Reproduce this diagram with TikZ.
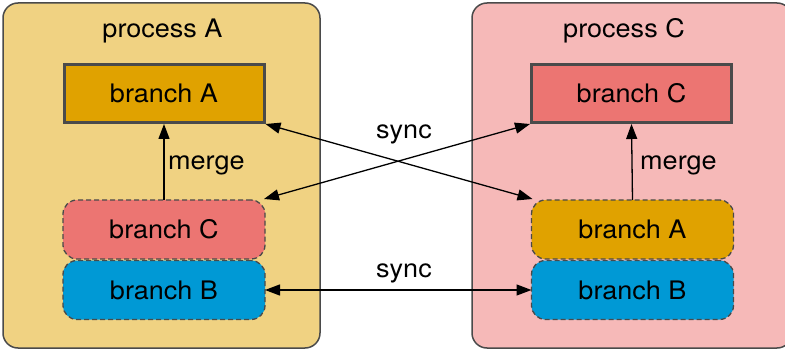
\documentclass[tikz,border=0pt]{standalone}
\usepackage{fontspec}
\setmainfont[FakeStretch=1.06]{TeX Gyre Heros}
\usetikzlibrary{arrows.meta}
\definecolor{procA}{HTML}{F0D282}
\definecolor{procC}{HTML}{F6B9B8}
\definecolor{brA}{HTML}{E0A200}
\definecolor{brC}{HTML}{EC7572}
\definecolor{brB}{HTML}{0099D5}
\definecolor{edge}{HTML}{4A4A4A}
\tikzset{
  container/.style={draw=edge, line width=1.5pt, rounded corners=15pt},
  solidbox/.style={draw=edge, line width=3pt, minimum width=200pt, minimum height=58pt, inner sep=0pt, outer sep=1.5pt, text depth=0pt, text height=18.3pt},
  dashbox/.style={draw=edge, line width=1.3pt, dash pattern=on 5pt off 3pt, rounded corners=14pt, minimum width=202pt, minimum height=59pt, inner sep=0pt, outer sep=0pt, text depth=0pt, text height=18.3pt},
  lbl/.style={inner sep=0pt},
  conn/.style={line width=1.3pt, -{Triangle[length=15pt,width=11pt]}},
  bconn/.style={line width=1.3pt, {Triangle[length=15pt,width=11pt]}-{Triangle[length=15pt,width=11pt]}},
}
\begin{document}
\begin{tikzpicture}[x=1pt,y=-1pt, every node/.append style={font=\fontsize{25.5}{30}\selectfont}]
\useasboundingbox (0,0) rectangle (785,350);
\begin{scope}
\clip (0,0) rectangle (785,350);
\draw[container, fill=procA] (3,3) rectangle (320,348);
\draw[container, fill=procC] (472,3) rectangle (792,348);
\end{scope}
\node[lbl, anchor=base] (pA) at (162.5,38) {process A};
\node[lbl, anchor=base] (pC) at (624,38) {process C};
% left
\node[solidbox, fill=brA] (LA) at (164,93.5) {branch A};
\node[dashbox, fill=brC] (LC) at (164,229.5) {branch C};
\node[dashbox, fill=brB] (LB) at (164,290) {branch B};
% right
\node[solidbox, fill=brC] (RC) at (631.5,93.5) {branch C};
\node[dashbox, fill=brA] (RA) at (632.5,229.5) {branch A};
\node[dashbox, fill=brB] (RB) at (632.5,290) {branch B};
% connectors
\draw[conn] (LC.north) -- (LA.south);
\draw[conn] (RA.north) -- (RC.south);
\draw[bconn] (LA.south east) -- ([xshift=1pt,yshift=1pt]RA.north west);
\draw[bconn] ([xshift=-1pt,yshift=1pt]LC.north east) -- (RC.south west);
\draw[bconn] (LB.east) -- (RB.west);
% labels
\node[lbl, anchor=base west] (m1) at (168,170) {merge};
\node[lbl, anchor=base west] (m2) at (640,170) {merge};
\node[lbl, anchor=base] (s1) at (404,138.3) {sync};
\node[lbl, anchor=base] (s2) at (404,277) {sync};
\end{tikzpicture}
\end{document}
